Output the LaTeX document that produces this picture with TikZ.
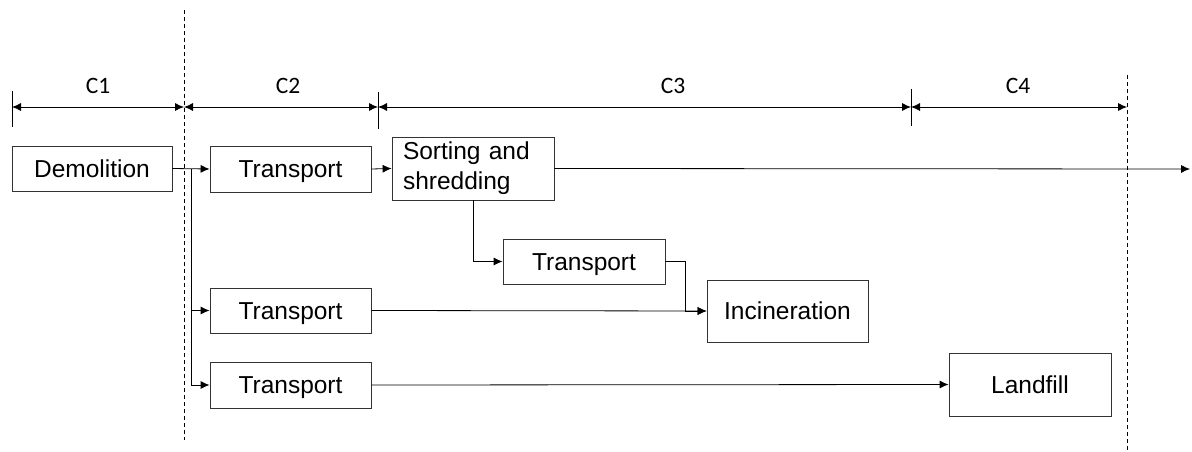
\documentclass[tikz,border=0pt]{standalone}
\usepackage{fontspec}
\setmainfont{Liberation Sans}
\newfontfamily\labelfont{Carlito}
\usetikzlibrary{arrows.meta}
\begin{document}
\begin{tikzpicture}[x=1pt,y=-1pt,
  box/.style={draw=black!80,line width=0.8pt,inner sep=0pt,font=\fontsize{24.5}{30}\selectfont},
  one/.style={text height=17.5pt,text depth=0pt},
  conn/.style={line width=0.8pt,-{Latex[length=9pt,width=8pt]}},
  dim/.style={line width=0.8pt,{Latex[length=9pt,width=8pt]}-{Latex[length=9pt,width=8pt]}},
  tick/.style={line width=0.8pt},
  sep/.style={line width=0.8pt,dashed,dash pattern=on 4pt off 3pt},
  clab/.style={font=\labelfont\fontsize{23.5}{26}\selectfont,anchor=base,inner sep=0pt}]
\useasboundingbox (0,0) rectangle (1192,452);
% separators
\draw[sep] (184,10) -- (184,440);
\draw[sep] (1127,75) -- (1127,452);
% dimension line
\coordinate (d0) at (12,107);
\coordinate (d1) at (184,107);
\coordinate (d2) at (378,107);
\coordinate (d3) at (911,107);
\coordinate (d4) at (1127,107);
\draw[tick] (12,91) -- (12,127);
\draw[tick] (378,92) -- (378,129);
\draw[tick] (911,89) -- (911,126);
\draw[dim] (d0) -- (d1);
\draw[dim] (d1) -- (d2);
\draw[dim] (d2) -- (d3);
\draw[dim] (d3) -- (d4);
\node[clab] (c1) at (98,93) {C1};
\node[clab] (c2) at (288,93) {C2};
\node[clab] (c3) at (673,93) {C3};
\node[clab] (c4) at (1018,93) {C4};
% boxes
\node[box,one,minimum width=160pt,minimum height=45pt] (dem) at (92,168.5) {Demolition};
\node[box,one,minimum width=161pt,minimum height=46pt] (t1) at (290.5,169) {Transport};
\node[box,minimum width=162pt,minimum height=63pt,text width=140pt,align=left] (sort) at (473,168.5) {Sorting and\\shredding};
\node[box,one,minimum width=162pt,minimum height=45pt] (t4) at (584,261.5) {Transport};
\node[box,one,minimum width=161pt,minimum height=45pt] (t2) at (290.5,310.5) {Transport};
\node[box,one,minimum width=161pt,minimum height=62pt] (inc) at (787.5,311) {Incineration};
\node[box,one,minimum width=161pt,minimum height=46pt] (t3) at (290.5,385) {Transport};
\node[box,one,minimum width=162pt,minimum height=63pt] (land) at (1030,384.5) {Landfill};
% connectors
\coordinate (br) at (191,169);
\coordinate (out) at (1190,169);
\coordinate (j) at (685,311);
\draw[conn] (dem.east) -- (t1.west);
\draw[conn] (br) |- (t2.west);
\draw[conn] (br) |- (t3.west);
\draw[conn] (t1.east) -- (sort.west);
\draw[conn] (sort.east) -- (out);
\draw[conn] (sort.south) |- (t4.west);
\draw[conn] (t4.east) -| (j) -- (inc.west);
\draw[conn] (t2.east) -- (inc.west);
\draw[conn] (t3.east) -- (land.west);
\end{tikzpicture}
\end{document}
